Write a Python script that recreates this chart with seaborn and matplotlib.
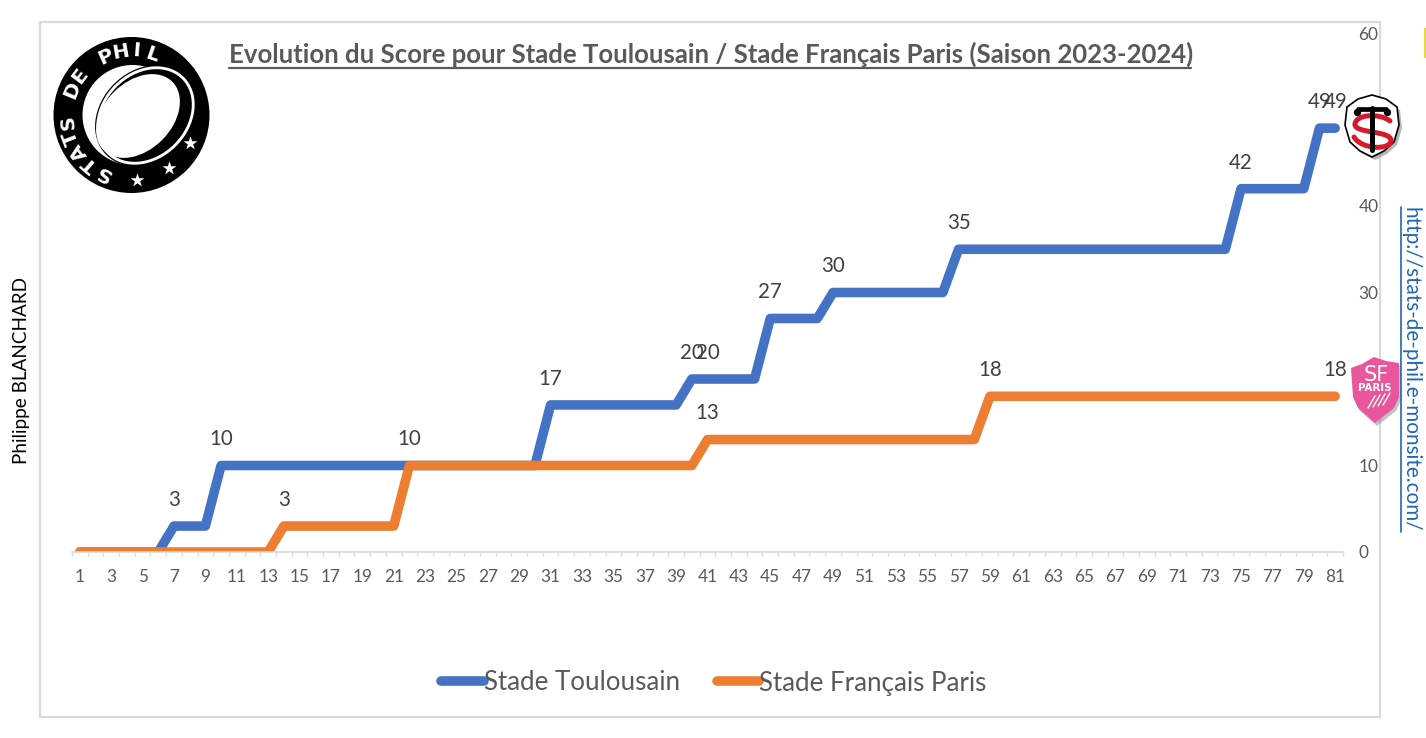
import numpy as np
import pandas as pd
import seaborn as sns
import matplotlib.pyplot as plt
from matplotlib.path import Path
from matplotlib.patches import Circle, Ellipse, PathPatch, Polygon, Rectangle

minutes = list(range(1, 82))
toulouse = [0, 0, 0, 0, 0, 0, 3, 3, 3, 10,
            10, 10, 10, 10, 10, 10, 10, 10, 10, 10,
            10, 10, 10, 10, 10, 10, 10, 10, 10, 10,
            17, 17, 17, 17, 17, 17, 17, 17, 17, 20,
            20, 20, 20, 20, 27, 27, 27, 27, 30, 30,
            30, 30, 30, 30, 30, 30, 35, 35, 35, 35,
            35, 35, 35, 35, 35, 35, 35, 35, 35, 35,
            35, 35, 35, 35, 42, 42, 42, 42, 42, 49, 49]
paris = [0, 0, 0, 0, 0, 0, 0, 0, 0, 0,
         0, 0, 0, 3, 3, 3, 3, 3, 3, 3,
         3, 10, 10, 10, 10, 10, 10, 10, 10, 10,
         10, 10, 10, 10, 10, 10, 10, 10, 10, 10,
         13, 13, 13, 13, 13, 13, 13, 13, 13, 13,
         13, 13, 13, 13, 13, 13, 13, 13, 18, 18,
         18, 18, 18, 18, 18, 18, 18, 18, 18, 18,
         18, 18, 18, 18, 18, 18, 18, 18, 18, 18, 18]
# minutes that get a data label
toulouse_labels = [7, 10, 31, 40, 41, 45, 49, 57, 75, 80, 81]
paris_labels = [14, 22, 41, 59, 81]

names = ['Stade Toulousain', 'Stade Français Paris']
title = 'Evolution du Score pour Stade Toulousain / Stade Français Paris (Saison 2023-2024)'
url = 'http://stats-de-phil.e-monsite.com/'

BLUE = '#4472c4'
ORANGE = '#ed7d31'
GREY = '#595959'
LIGHT = '#d9d9d9'
LINK = '#1f66b5'

sns.set_theme(style='white')
plt.rcParams['font.family'] = ['Lato', 'DejaVu Sans']

df = pd.DataFrame({'minute': minutes * 2,
                   'score': toulouse + paris,
                   'team': [names[0]] * 81 + [names[1]] * 81})

W, H = 1426, 738
fig = plt.figure(figsize=(W / 100, H / 100), dpi=100, facecolor='white')
ax = fig.add_axes([72 / W, 1 - 552 / H, (1343 - 72) / W, (552 - 33) / H])
ax.patch.set_alpha(0)

sns.lineplot(data=df, x='minute', y='score', hue='team', palette=[BLUE, ORANGE],
             linewidth=6.9, errorbar=None, ax=ax, legend=True,
             solid_capstyle='round', solid_joinstyle='round')
ax.set_xlim(0.5, 81.5)
ax.set_ylim(0, 60)
ax.set_xlabel('')
ax.set_ylabel('')

for series, labels in [(toulouse, toulouse_labels), (paris, paris_labels)]:
    for x in labels:
        ax.annotate(str(series[x - 1]), (x, series[x - 1]), xytext=(0, 18.8),
                    textcoords='offset points', ha='center', va='center',
                    fontsize=14.8, color='#404040')

for s in ['top', 'left', 'right']:
    ax.spines[s].set_visible(False)
ax.spines['bottom'].set_color(LIGHT)
ax.spines['bottom'].set_linewidth(1.2)

ax.set_xticks(minutes[::2])
ax.set_xticks(np.arange(0.5, 82), minor=True)
ax.tick_params(axis='x', which='minor', bottom=True, length=3, width=1, color=LIGHT)
ax.tick_params(axis='x', which='major', bottom=False, labelsize=12.4, labelcolor=GREY, pad=6)
ax.yaxis.tick_right()
ax.set_yticks(range(0, 61, 10))
ax.tick_params(axis='y', right=False, labelsize=12.4, labelcolor=GREY, pad=5)
for t in ax.get_yticklabels():
    t.set_ha('left')

handles, labels = ax.get_legend_handles_labels()
ax.get_legend().remove()
leg = fig.legend(handles, labels, loc='center', bbox_to_anchor=(714 / W, 1 - 683 / H),
                 ncol=2, frameon=False, fontsize=18.6, labelcolor=GREY,
                 handlelength=1.65, handletextpad=0.0, columnspacing=1.43)
for h in leg.get_lines():
    h.set_linewidth(6.9)

# overlay in pixel coordinates: frame, title, logos, side texts
ov = fig.add_axes([0, 0, 1, 1], zorder=5)
ov.set_xlim(0, W)
ov.set_ylim(H, 0)
ov.axis('off')
ov.patch.set_alpha(0)

ov.add_patch(Rectangle((40, 22), 1340, 695, fill=False, ec=LIGHT, lw=1.6))
ov.text(229, 54, title, fontsize=18.5, fontweight='bold', color=GREY, ha='left', va='center')
ov.plot([229, 1191], [68, 68], color=GREY, lw=1.6)

ov.text(22, 370, 'Philippe BLANCHARD', rotation=90, fontsize=13.6, color='black',
        ha='center', va='center')
ov.text(1411, 207, url, rotation=-90, fontsize=14.9, color=LINK, ha='center', va='top')
ov.plot([1401, 1401], [207, 532], color=LINK, lw=1.2)
ov.add_patch(Rectangle((1424, 28), 2, 30, color='#e8d840', lw=0))

# Stats de Phil badge
cx, cy = 131.5, 115
ov.add_patch(Circle((cx, cy), 78, color='black', lw=0))
ov.add_patch(Circle((cx + 1, cy), 50, color='white', lw=0))
ov.add_patch(Ellipse((145.5, 115.5), 110, 88, angle=-45, fc='white', ec='black', lw=0.9))
ov.add_patch(Ellipse((145.5, 115.5), 103, 81, angle=-45, fc='black', ec='none'))
ov.add_patch(Ellipse((138, 116), 97, 68, angle=-45, fc='white', ec='none'))
for i, ch in enumerate('STATS DE PHIL'):
    a = np.radians(244 - i * 173 / 12)
    ov.text(cx + 64 * np.cos(a), cy - 64 * np.sin(a), ch, rotation=np.degrees(a) - 90,
            color='white', fontsize=14.5, fontweight='bold', ha='center', va='center',
            rotation_mode='anchor', family='DejaVu Sans')
ov.scatter([137, 169, 190], [180, 168, 143], marker='*', s=110, color='white', lw=0)

# Toulouse shield
shield = [(1347, 107), (1358, 99), (1372, 95), (1386, 99), (1397, 107), (1399, 125),
          (1394, 142), (1384, 151), (1372, 157), (1360, 151), (1350, 142), (1345, 125)]
ov.add_patch(Polygon([(x + 3, y + 3) for x, y in shield], fc='#888888', ec='none', alpha=0.6))
ov.add_patch(Polygon(shield, fc='white', ec='black', lw=1.2))
s_path = Path([(1390, 121), (1380, 113), (1356, 114), (1355, 124),
               (1354, 134), (1392, 130), (1391, 141),
               (1390, 150), (1362, 150), (1354, 137)],
              [Path.MOVETO, Path.CURVE4, Path.CURVE4, Path.CURVE4,
               Path.CURVE4, Path.CURVE4, Path.CURVE4,
               Path.CURVE4, Path.CURVE4, Path.CURVE4])
ov.add_patch(PathPatch(s_path, fc='none', ec='#d8182a', lw=3.6, capstyle='round'))
ov.plot([1372, 1372], [108, 150], color='black', lw=3.6)
ov.plot([1358, 1386], [109, 109], color='black', lw=3.4)
ov.scatter([1357, 1387], [112, 112], s=28, color='black', lw=0)

# Paris shield
sf = [(1351, 368), (1362, 364), (1374, 357), (1386, 361), (1399, 363), (1399, 397),
      (1394, 408), (1375, 423), (1358, 408), (1353, 397)]
ov.add_patch(Polygon([(x + 2, y + 3) for x, y in sf], fc='#888888', ec='none', alpha=0.5))
ov.add_patch(Polygon(sf, fc='#e9569b', ec='none'))
ov.text(1376, 375, 'SF', fontsize=15, color='white', ha='center', va='center',
        family='DejaVu Sans')
ov.text(1375, 388, 'PARIS', fontsize=7.4, color='white', ha='center', va='center',
        family='DejaVu Sans', fontweight='bold')
for dx in [0, 5, 10, 15]:
    ov.plot([1368 + dx, 1375 + dx], [408 - dx * 0.2, 396 - dx * 0.2], color='white', lw=1)

plt.savefig('out.png', dpi=100)
